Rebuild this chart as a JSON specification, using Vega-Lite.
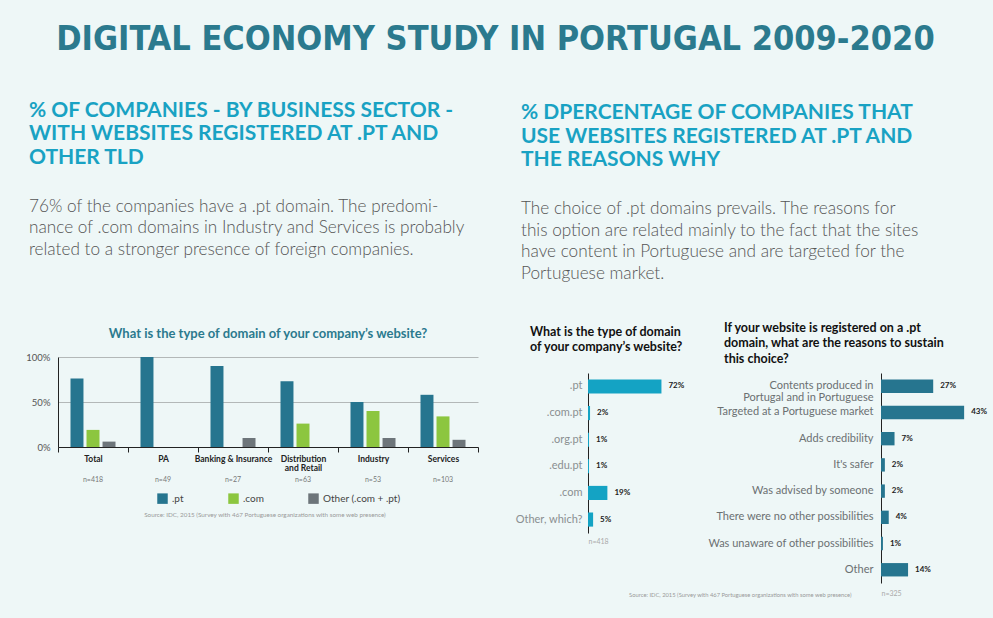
{
  "$schema": "https://vega.github.io/schema/vega-lite/v6.json",
  "background": "#eef7f7",
  "padding": {"left": 25, "top": 22, "right": 10, "bottom": 30},
  "title": {
    "text": "DIGITAL ECONOMY STUDY IN PORTUGAL 2009-2020",
    "font": "DejaVu Sans Condensed, DejaVu Sans",
    "fontSize": 34,
    "fontWeight": "bold",
    "color": "#2b7a8e",
    "anchor": "middle",
    "dx": -11,
    "offset": 43
  },
  "config": {
    "view": {"stroke": null},
    "font": "Lato",
    "axis": {"labelFont": "Lato", "titleFont": "Lato"},
    "legend": {"labelFont": "Lato"}
  },
  "resolve": {"scale": {"color": "independent"}, "legend": {"color": "independent"}},
  "spacing": 35,
  "hconcat": [
    {
      "spacing": 8,
      "resolve": {"scale": {"color": "independent"}, "legend": {"color": "independent"}},
      "vconcat": [
        {
          "width": 400,
          "height": 38,
          "data": {"values": [{}]},
          "mark": {"type": "text"},
          "encoding": {"text": {"value": ""}},
          "title": {
            "text": ["% OF COMPANIES - BY BUSINESS SECTOR -", "WITH WEBSITES REGISTERED AT .PT AND", "OTHER TLD"],
            "subtitle": ["76% of the companies have a .pt domain. The predomi-", "nance of .com domains in Industry and Services is probably", "related to a stronger presence of foreign companies.", " "],
            "anchor": "start",
            "frame": "group",
            "dx": -29,
            "dy": -2.6,
            "font": "Lato",
            "fontSize": 21,
            "fontWeight": "bold",
            "color": "#19a2c3",
            "lineHeight": 23.5,
            "subtitleFont": "Lato",
            "subtitleFontSize": 17.2,
            "subtitleFontWeight": 300,
            "subtitleColor": "#555555",
            "subtitleLineHeight": 21.5,
            "subtitlePadding": 30,
            "offset": 0
          }
        },
        {
          "width": 420,
          "height": 90,
          "title": {
            "text": "What is the type of domain of your company’s website?",
            "font": "Lato",
            "fontSize": 13,
            "fontWeight": "bold",
            "color": "#2b7a8e",
            "anchor": "middle",
            "frame": "group",
            "offset": 11
          },
          "data": {
            "values": [
              {"sector": "Total", "type": ".pt", "value": 0.76},
              {"sector": "Total", "type": ".com", "value": 0.19},
              {"sector": "Total", "type": "Other (.com + .pt)", "value": 0.06},
              {"sector": "PA", "type": ".pt", "value": 1.0},
              {"sector": "PA", "type": ".com", "value": 0},
              {"sector": "PA", "type": "Other (.com + .pt)", "value": 0},
              {"sector": "Banking & Insurance", "type": ".pt", "value": 0.9},
              {"sector": "Banking & Insurance", "type": ".com", "value": 0},
              {"sector": "Banking & Insurance", "type": "Other (.com + .pt)", "value": 0.1},
              {"sector": "Distribution and Retail", "type": ".pt", "value": 0.73},
              {"sector": "Distribution and Retail", "type": ".com", "value": 0.26},
              {"sector": "Distribution and Retail", "type": "Other (.com + .pt)", "value": 0},
              {"sector": "Industry", "type": ".pt", "value": 0.5},
              {"sector": "Industry", "type": ".com", "value": 0.4},
              {"sector": "Industry", "type": "Other (.com + .pt)", "value": 0.1},
              {"sector": "Services", "type": ".pt", "value": 0.58},
              {"sector": "Services", "type": ".com", "value": 0.34},
              {"sector": "Services", "type": "Other (.com + .pt)", "value": 0.08}
            ]
          },
          "layer": [
            {
              "mark": {"type": "bar"},
              "encoding": {
                "x": {
                  "field": "sector",
                  "type": "nominal",
                  "sort": ["Total", "PA", "Banking & Insurance", "Distribution and Retail", "Industry", "Services"],
                  "scale": {"paddingInner": 0, "paddingOuter": 0},
                  "axis": {
                    "title": null,
                    "labelAngle": 0,
                    "tickBand": "extent",
                    "domainColor": "#222222",
                    "tickColor": "#222222",
                    "tickSize": 5,
                    "labelFontWeight": "bold",
                    "labelFontSize": 8.5,
                    "labelColor": "#222222",
                    "labelPadding": 2,
                    "labelLineHeight": 9.5,
                    "labelExpr": "datum.value == 'Distribution and Retail' ? ['Distribution', 'and Retail'] : datum.value"
                  }
                },
                "xOffset": {
                  "field": "type",
                  "type": "nominal",
                  "sort": [".pt", ".com", "Other (.com + .pt)"],
                  "scale": {"paddingInner": 0.19, "paddingOuter": 0.78}
                },
                "y": {
                  "field": "value",
                  "type": "quantitative",
                  "scale": {"domain": [0, 1]},
                  "axis": {
                    "title": null,
                    "values": [0, 0.5, 1],
                    "format": ".0%",
                    "grid": true,
                    "gridColor": "#b3b8b8",
                    "ticks": false,
                    "domainColor": "#222222",
                    "labelColor": "#555555",
                    "labelFontSize": 9.5,
                    "labelPadding": 8
                  }
                },
                "color": {
                  "field": "type",
                  "type": "nominal",
                  "scale": {
                    "domain": [".pt", ".com", "Other (.com + .pt)"],
                    "range": ["#26758f", "#8cc63f", "#6d757a"]
                  },
                  "legend": {
                    "title": null,
                    "orient": "none",
                    "legendX": 99,
                    "legendY": 136,
                    "direction": "horizontal",
                    "symbolType": "square",
                    "symbolSize": 110,
                    "symbolStrokeWidth": 0,
                    "labelFontSize": 10,
                    "labelColor": "#444444",
                    "columnPadding": 44
                  }
                }
              }
            },
            {
              "mark": {"type": "rule", "opacity": 0},
              "encoding": {
                "x": {
                  "field": "sector",
                  "type": "nominal",
                  "sort": ["Total", "PA", "Banking & Insurance", "Distribution and Retail", "Industry", "Services"],
                  "axis": {
                    "orient": "bottom",
                    "offset": 26,
                    "title": null,
                    "domain": false,
                    "ticks": false,
                    "labelAngle": 0,
                    "labelPadding": 2,
                    "labelFontSize": 7,
                    "labelColor": "#777777",
                    "labelExpr": "datum.value == 'Total' ? 'n=418' : datum.value == 'PA' ? 'n=49' : datum.value == 'Banking & Insurance' ? 'n=27' : datum.value == 'Distribution and Retail' ? 'n=63' : datum.value == 'Industry' ? 'n=53' : 'n=103'"
                  }
                }
              }
            }
          ],
          "resolve": {"axis": {"x": "independent"}}
        },
        {
          "width": 420,
          "height": 1,
          "data": {"values": [{}]},
          "mark": {"type": "text"},
          "encoding": {"text": {"value": ""}},
          "title": {
            "text": "Source: IDC, 2015 (Survey with 467 Portuguese organizations with some web presence)",
            "anchor": "middle",
            "frame": "group",
            "dx": -3,
            "font": "Lato",
            "fontSize": 6.3,
            "fontWeight": "normal",
            "color": "#999999",
            "offset": 0
          }
        }
      ]
    },
    {
      "spacing": 12,
      "vconcat": [
        {
          "width": 380,
          "height": 27,
          "data": {"values": [{}]},
          "mark": {"type": "text"},
          "encoding": {"text": {"value": ""}},
          "title": {
            "text": ["% DPERCENTAGE OF COMPANIES THAT", "USE WEBSITES REGISTERED AT .PT AND", "THE REASONS WHY"],
            "subtitle": ["The choice of .pt domains prevails. The reasons for", "this option are related mainly to the fact that the sites", "have content in Portuguese and are targeted for the", "Portuguese market."],
            "anchor": "start",
            "frame": "group",
            "dx": -67,
            "font": "Lato",
            "fontSize": 21,
            "fontWeight": "bold",
            "color": "#19a2c3",
            "lineHeight": 23.5,
            "subtitleFont": "Lato",
            "subtitleFontSize": 17.2,
            "subtitleFontWeight": 300,
            "subtitleColor": "#555555",
            "subtitleLineHeight": 21.5,
            "subtitlePadding": 30,
            "offset": 0
          }
        },
        {
          "bounds": "flush",
          "spacing": 191,
          "hconcat": [
            {
              "width": 102,
              "height": 160,
              "title": {
                "text": ["What is the type of domain", "of your company’s website?"],
                "anchor": "start",
                "frame": "group",
                "dx": -58,
                "font": "Lato",
                "fontSize": 12.5,
                "fontWeight": "bold",
                "color": "#111111",
                "lineHeight": 15,
                "offset": 20
              },
              "data": {
                "values": [
                  {"domain": ".pt", "share": 0.72},
                  {"domain": ".com.pt", "share": 0.02},
                  {"domain": ".org.pt", "share": 0.01},
                  {"domain": ".edu.pt", "share": 0.01},
                  {"domain": ".com", "share": 0.19},
                  {"domain": "Other, which?", "share": 0.05}
                ]
              },
              "encoding": {
                "y": {
                  "field": "domain",
                  "type": "nominal",
                  "sort": null,
                  "scale": {"paddingInner": 0.47, "paddingOuter": 0.24},
                  "axis": {
                    "title": null,
                    "ticks": false,
                    "domainColor": "#222222",
                    "labelColor": "#8a8f91",
                    "labelFontSize": 11,
                    "labelPadding": 6
                  }
                },
                "x": {
                  "field": "share",
                  "type": "quantitative",
                  "scale": {"domain": [0, 1]},
                  "axis": {
                    "title": "n=418",
                    "labels": false,
                    "ticks": false,
                    "domain": false,
                    "grid": false,
                    "titleAnchor": "start",
                    "titleFontSize": 7,
                    "titleFontWeight": "normal",
                    "titleColor": "#aaaaaa",
                    "titlePadding": 4
                  }
                }
              },
              "layer": [
                {"mark": {"type": "bar", "color": "#14a3c4"}},
                {
                  "mark": {"type": "text", "align": "left", "dx": 7, "fontSize": 8, "fontWeight": "bold", "color": "#222222"},
                  "encoding": {"text": {"field": "share", "type": "quantitative", "format": ".0%"}}
                }
              ]
            },
            {
              "width": 87,
              "height": 210,
              "title": {
                "text": ["If your website is registered on a .pt", "domain, what are the reasons to sustain", "this choice?"],
                "anchor": "start",
                "frame": "group",
                "dx": -157,
                "font": "Lato",
                "fontSize": 12.5,
                "fontWeight": "bold",
                "color": "#111111",
                "lineHeight": 15.5,
                "offset": 8
              },
              "data": {
                "values": [
                  {"reason": "Contents produced in Portugal and in Portuguese", "share": 0.27},
                  {"reason": "Targeted at a Portuguese market", "share": 0.43},
                  {"reason": "Adds credibility", "share": 0.07},
                  {"reason": "It's safer", "share": 0.02},
                  {"reason": "Was advised by someone", "share": 0.02},
                  {"reason": "There were no other possibilities", "share": 0.04},
                  {"reason": "Was unaware of other possibilities", "share": 0.01},
                  {"reason": "Other", "share": 0.14}
                ]
              },
              "layer": [
                {
                  "mark": {"type": "bar", "color": "#26758f"},
                  "encoding": {
                    "y": {
                      "field": "reason",
                      "type": "nominal",
                      "sort": null,
                      "scale": {"paddingInner": 0.49, "paddingOuter": 0.25},
                      "axis": {
                        "title": null,
                        "ticks": false,
                        "domainColor": "#222222",
                        "labelColor": "#6b7072",
                        "labelFontSize": 11,
                        "labelPadding": 8,
                        "labelLineHeight": 12,
                        "labelLimit": 300,
                        "labelExpr": "datum.value == 'Contents produced in Portugal and in Portuguese' ? ['Contents produced in', 'Portugal and in Portuguese'] : datum.value"
                      }
                    },
                    "x": {
                      "field": "share",
                      "type": "quantitative",
                      "scale": {"domain": [0, 0.43]},
                      "axis": {
                        "title": "n=325",
                        "labels": false,
                        "ticks": false,
                        "domain": false,
                        "grid": false,
                        "titleAnchor": "start",
                        "titleFontSize": 7,
                        "titleFontWeight": "normal",
                        "titleColor": "#aaaaaa",
                        "titlePadding": 6
                      }
                    }
                  }
                },
                {
                  "mark": {"type": "text", "align": "left", "dx": 7, "fontSize": 8, "fontWeight": "bold", "color": "#222222"},
                  "encoding": {
                    "y": {"field": "reason", "type": "nominal", "sort": null},
                    "x": {"field": "share", "type": "quantitative", "axis": null},
                    "text": {"field": "share", "type": "quantitative", "format": ".0%"}
                  }
                },
                {
                  "mark": {"type": "rule", "opacity": 0},
                  "encoding": {
                    "x": {
                      "field": "share",
                      "type": "quantitative",
                      "axis": {
                        "orient": "bottom",
                        "title": "Source: IDC, 2015 (Survey with 467 Portuguese organizations with some web presence)",
                        "labels": false,
                        "ticks": false,
                        "domain": false,
                        "grid": false,
                        "titleX": -30,
                        "titleY": 8,
                        "titleAlign": "right",
                        "titleBaseline": "top",
                        "titleFontSize": 5.8,
                        "titleFontWeight": "normal",
                        "titleColor": "#999999"
                      }
                    }
                  }
                }
              ],
              "resolve": {"axis": {"x": "independent"}}
            }
          ]
        }
      ]
    }
  ]
}
